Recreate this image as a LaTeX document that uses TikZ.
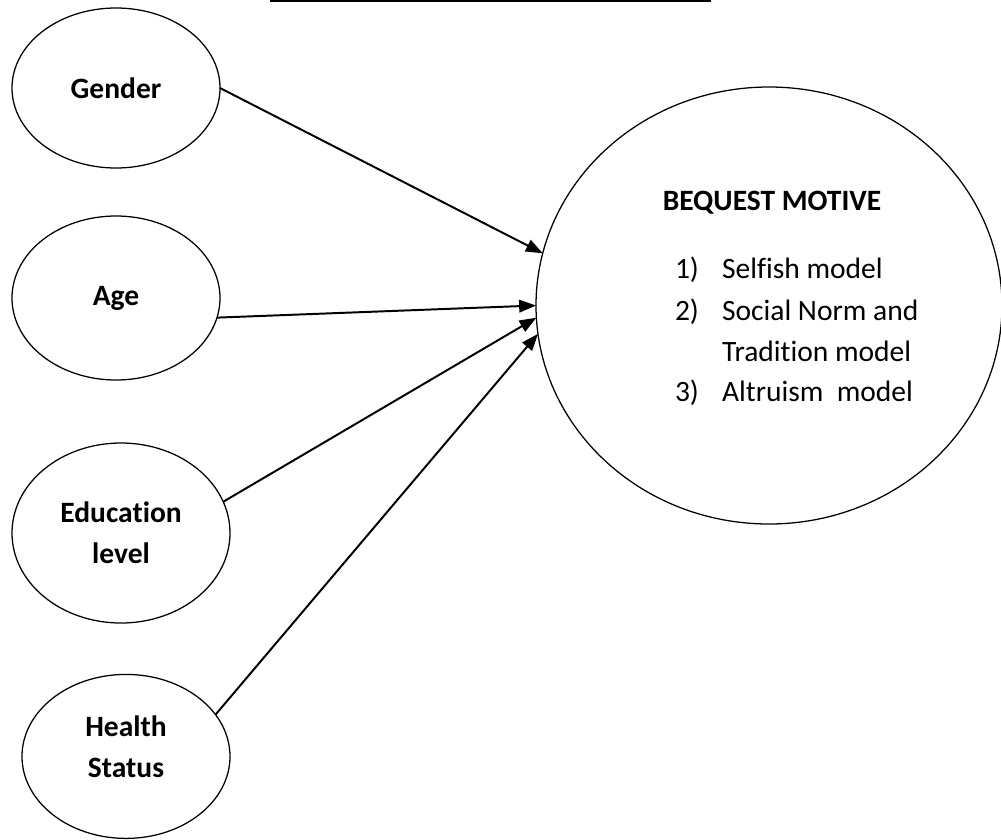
\documentclass[tikz,border=0pt]{standalone}
\usepackage{fontspec}
\setmainfont{Carlito}[Ligatures=NoCommon]
\usepackage{tikz}
\usetikzlibrary{shapes.geometric, arrows.meta}
\newcommand{\diagfont}{\fontsize{21pt}{29.5pt}\selectfont}

\begin{document}
\begin{tikzpicture}
	\tikzstyle{every node}=[font=\diagfont, inner sep=0pt, outer sep=0pt];
	\tikzstyle{factor}=[ellipse, draw, line width=0.9pt, align=center, font=\diagfont\bfseries];
	\tikzstyle{link}=[line width=1.4pt, -{Triangle[length=12pt, width=9pt]}];
	
	%Frame
	\useasboundingbox (0, 0) rectangle (25.025, -20.975);
	
	%Title rule (the title itself is cut off)
	\fill (6.75, 0) rectangle (17.775, -0.055);
	
	%Factors
	\node[factor, minimum width=5.2cm, minimum height=4cm] (gender) at (2.9, -2.2) {Gender};
	\node[factor, minimum width=5.2cm, minimum height=4.1cm] (age) at (2.9, -7.45) {Age};
	\node[factor, minimum width=5.45cm, minimum height=4.5cm] (edu) at (3.025, -13.325) {Education\\level};
	\node[factor, minimum width=5.2cm, minimum height=4.1cm, text depth=0.5cm] (health) at (3.15, -18.91) {Health\\Status};
	
	%Bequest motive
	\node[ellipse, draw, line width=0.9pt, minimum width=11.65cm, minimum height=10.925cm] (bq) at (19.225, -7.6375) {};
	\node[anchor=base, font=\diagfont\bfseries] (bqtitle) at (19.3, -5.25) {BEQUEST MOTIVE};
	\node[anchor=base west] (num1) at (16.875, -6.95) {1)};
	\node[anchor=base west] (item1) at (18.05, -6.95) {Selfish model};
	\node[anchor=base west] (num2) at (16.875, -8.0) {2)};
	\node[anchor=base west] (item2) at (18.05, -8.0) {Social Norm and};
	\node[anchor=base west] (item2b) at (18.05, -9.025) {Tradition model};
	\node[anchor=base west] (num3) at (16.875, -10.025) {3)};
	\node[anchor=base west] (item3) at (18.05, -10.025) {Altruism\ \ model};
	
	%Arrows
	\draw[link] (gender.east) -- (bq.167);
	\draw[link] (age.-11) -- (bq.180);
	\draw[link] (edu.17) -- (bq.-177);
	\draw[link] (health.25) -- (bq.-173);
\end{tikzpicture}
\end{document}
